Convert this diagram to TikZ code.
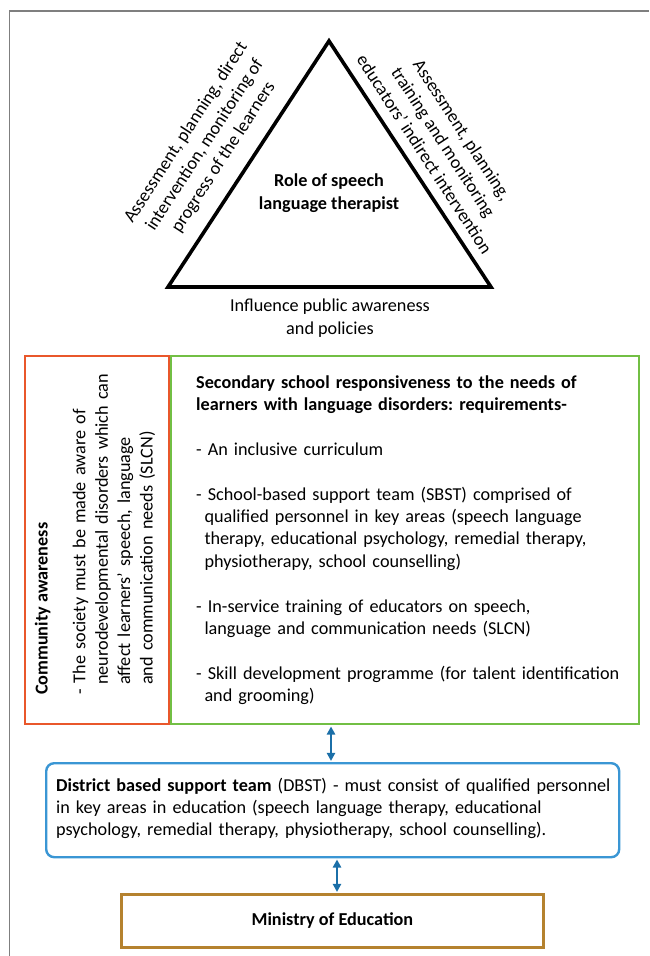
\documentclass[tikz,border=0pt]{standalone}
\usepackage{fontspec}
\setmainfont{Carlito}
\usetikzlibrary{arrows.meta}
\frenchspacing
\hyphenpenalty=10000
\exhyphenpenalty=10000
\definecolor{orng}{HTML}{E9572B}
\definecolor{grn}{HTML}{72BF44}
\definecolor{blu}{HTML}{3A96D4}
\definecolor{arrblu}{HTML}{1B6FA8}
\definecolor{brn}{HTML}{B5822F}
\definecolor{frm}{HTML}{7F7F7F}
\tikzset{
  txt/.style={font=\fontsize{18.2}{22.4}\selectfont, inner sep=0pt},
  btxt/.style={font=\fontsize{18.2}{22.4}\selectfont\bfseries, inner sep=0pt},
  boxframe/.style={line width=2.4pt, inner sep=0pt, anchor=north west},
  arr/.style={draw=arrblu, line width=1.3pt, {Triangle[width=8.5pt,length=8pt]}-{Triangle[width=8.5pt,length=8pt]}, shorten <=1.2pt, shorten >=1.2pt},
}
\begin{document}
\begin{tikzpicture}[x=1pt,y=-1pt]
\useasboundingbox (0,0) rectangle (649,956);
% outer frame
\coordinate (fbl) at (9.5,956);
\coordinate (ftl) at (9.5,11);
\coordinate (ftr) at (649,11);
\draw[frm, line width=1.6pt] (fbl) -- (ftl) -- (ftr);
% triangle
\coordinate (apex) at (329,41);
\coordinate (bl) at (168,287);
\coordinate (br) at (491,287);
\draw[line width=3.6pt, line join=miter] (apex) -- (br) -- (bl) -- cycle;
\node[txt, rotate=57, align=center] (ltxt) at (205,145) {Assessment, planning, direct\\intervention, monitoring of\\progress of the learners};
\node[txt, rotate=-57, align=center] (rtxt) at (443.5,142) {Assessment, planning,\\training and monitoring\\educators’ indirect intervention};
\node[btxt, align=center] (role) at (329,193) {Role of speech\\language therapist};
\node[txt, align=center] (infl) at (330,318) {Influence public awareness\\and policies};
% community awareness box
\node[boxframe, draw=orng, minimum width=144.5pt, minimum height=368pt] (comm) at (23.5,355) {};
\node[btxt, rotate=90, anchor=base west] (ctitle) at (47.6,695) {Community awareness};
\node[txt, rotate=90, anchor=base west, text width=330pt, align=left] (cbody) at (85.4,695) {- The society must be made aware of\\\hspace*{10pt}neurodevelopmental disorders which can\\\hspace*{10pt}affect learners’ speech, language\\\hspace*{10pt}and communication needs (SLCN)};
% secondary school box
\node[boxframe, draw=grn, minimum width=468pt, minimum height=368pt] (sec) at (170,355) {};
\node[txt, anchor=base west, text width=436pt, align=left] (stxt) at (196,388) {\textbf{Secondary school responsiveness to the needs of}\\\textbf{learners with language disorders: requirements-}\\[22.4pt]- An inclusive curriculum\\[22.4pt]- School-based support team (SBST) comprised of\\\hspace*{8.3pt}qualified personnel in key areas (speech language\\\hspace*{8.3pt}therapy, educational psychology, remedial therapy,\\\hspace*{8.3pt}physiotherapy, school counselling)\\[22.4pt]- In-service training of educators on speech,\\\hspace*{8.3pt}language and communication needs (SLCN)\\[22.4pt]- Skill development programme (for talent identification\\\hspace*{8.3pt}and grooming)};
% district box
\node[boxframe, draw=blu, rounded corners=8pt, minimum width=573pt, minimum height=94pt] (dbst) at (45,762) {};
\node[txt, anchor=base west, text width=585pt, align=left] (dtxt) at (56,791) {\textbf{District based support team} (DBST) - must consist of qualified personnel\\in key areas in education (speech language therapy, educational\\psychology, remedial therapy, physiotherapy, school counselling).};
% ministry box
\node[boxframe, draw=brn, line width=2.8pt, minimum width=422pt, minimum height=53pt] (moe) at (120,893) {};
\node[btxt] (mtxt) at (moe.center) {Ministry of Education};
% arrows
\coordinate (ax1) at (331,0);
\coordinate (ax2) at (337,0);
\draw[arr] (ax1 |- sec.south) -- (ax1 |- dbst.north);
\draw[arr] (ax2 |- dbst.south) -- (ax2 |- moe.north);
\end{tikzpicture}
\end{document}
